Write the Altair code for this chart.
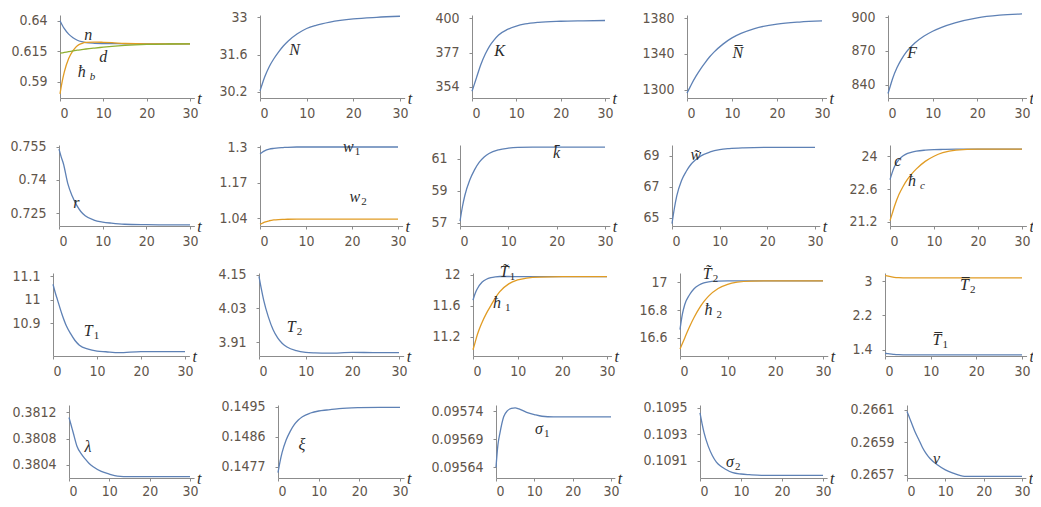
import altair as alt
import pandas as pd

# ---------------- data ----------------
T = [0, 0.5, 1, 2, 3, 4, 5, 6, 8, 10, 12, 15, 20, 25, 30]
X_TICKS = [0, 10, 20, 30]

n_vals = [0.640, 0.6365, 0.6335, 0.629, 0.626, 0.624, 0.6228, 0.622, 0.6215, 0.6213, 0.6212, 0.6211, 0.621, 0.621, 0.621]
hb_vals = [0.580, 0.590, 0.598, 0.609, 0.6155, 0.6195, 0.6213, 0.6222, 0.6225, 0.6223, 0.622, 0.6213, 0.621, 0.621, 0.621]
d_vals = [0.6135, 0.6137, 0.614, 0.6146, 0.6152, 0.6158, 0.6163, 0.6168, 0.6176, 0.6183, 0.619, 0.6198, 0.6206, 0.6209, 0.621]
N_vals = [30.23, 30.5, 30.75, 31.15, 31.45, 31.7, 31.92, 32.1, 32.38, 32.58, 32.7, 32.82, 32.94, 33.0, 33.04]
K_vals = [351, 355.5, 360, 369, 376, 381.5, 385.5, 388.8, 392.5, 394.8, 396.2, 397.3, 398, 398.3, 398.5]
Nbar_vals = [1296, 1301, 1306, 1315, 1323, 1330, 1336.5, 1342, 1351, 1358, 1363, 1368.5, 1373.5, 1375.8, 1377]
F_vals = [832, 838.5, 845, 855, 862.5, 868.5, 873, 877, 883, 887.5, 891, 895, 899.5, 901.8, 903]
r_vals = [0.754, 0.7505, 0.7475, 0.7385, 0.7328, 0.7287, 0.7257, 0.7238, 0.7218, 0.7209, 0.7204, 0.7199, 0.7197, 0.7196, 0.7196]
w1_vals = [1.276, 1.282, 1.287, 1.293, 1.296, 1.298, 1.299, 1.3, 1.301, 1.301, 1.301, 1.301, 1.301, 1.301, 1.301]
w2_vals = [1.018, 1.022, 1.026, 1.031, 1.034, 1.0355, 1.0362, 1.0366, 1.037, 1.037, 1.037, 1.037, 1.037, 1.037, 1.037]
kbar_vals = [57.1, 58.0, 58.7, 59.65, 60.3, 60.78, 61.1, 61.32, 61.55, 61.65, 61.7, 61.72, 61.72, 61.72, 61.72]
wtil_vals = [64.6, 65.6, 66.4, 67.4, 68.0, 68.45, 68.75, 68.98, 69.25, 69.4, 69.47, 69.52, 69.55, 69.55, 69.55]
c_vals = [23.0, 23.3, 23.55, 23.85, 24.02, 24.12, 24.18, 24.22, 24.26, 24.28, 24.29, 24.3, 24.3, 24.3, 24.3]
hc_vals = [21.25, 21.55, 21.85, 22.35, 22.72, 23.02, 23.26, 23.46, 23.78, 24.0, 24.15, 24.26, 24.3, 24.3, 24.3]
T1_vals = [11.065, 11.03, 11.0, 10.94, 10.89, 10.855, 10.826, 10.806, 10.789, 10.781, 10.778, 10.774, 10.779, 10.779, 10.779]
T2_vals = [4.145, 4.1, 4.06, 4.0, 3.955, 3.925, 3.905, 3.892, 3.879, 3.873, 3.871, 3.87, 3.873, 3.872, 3.872]
T1til_vals = [11.67, 11.76, 11.82, 11.9, 11.94, 11.96, 11.97, 11.975, 11.975, 11.974, 11.973, 11.972, 11.972, 11.972, 11.972]
h1_vals = [11.03, 11.13, 11.23, 11.38, 11.5, 11.6, 11.7, 11.78, 11.88, 11.93, 11.955, 11.968, 11.972, 11.972, 11.972]
T2til_vals = [16.66, 16.77, 16.84, 16.91, 16.955, 16.98, 16.995, 17.003, 17.008, 17.01, 17.01, 17.01, 17.01, 17.01, 17.01]
h2_vals = [16.52, 16.56, 16.6, 16.68, 16.75, 16.81, 16.86, 16.9, 16.955, 16.985, 17.0, 17.008, 17.01, 17.01, 17.01]
T2bar_vals = [3.13, 3.125, 3.11, 3.09, 3.08, 3.076, 3.075, 3.075, 3.075, 3.075, 3.075, 3.075, 3.075, 3.075, 3.075]
T1bar_vals = [1.31, 1.305, 1.3, 1.285, 1.278, 1.275, 1.274, 1.274, 1.274, 1.274, 1.274, 1.274, 1.274, 1.274, 1.274]
lam_vals = [0.38112, 0.38101, 0.3809, 0.38068, 0.38057, 0.38049, 0.38042, 0.38037, 0.3803, 0.38026, 0.38023, 0.38022, 0.38022, 0.38022, 0.38022]
xi_vals = [0.14752, 0.14785, 0.14812, 0.1485, 0.14876, 0.14896, 0.1491, 0.1492, 0.14931, 0.14937, 0.1494, 0.14944, 0.14947, 0.14948, 0.14948]
s1_vals = [0.09564, 0.09568, 0.0957, 0.09573, 0.095741, 0.095745, 0.095746, 0.095744, 0.095738, 0.095734, 0.095731, 0.09573, 0.09573, 0.09573, 0.09573]
s2_vals = [0.10946, 0.10938, 0.10931, 0.10921, 0.10914, 0.10909, 0.10906, 0.10904, 0.10901, 0.109, 0.108995, 0.10899, 0.10899, 0.10899, 0.10899]
v_vals = [0.26609, 0.26606, 0.26603, 0.26597, 0.26592, 0.26587, 0.26583, 0.2658, 0.26576, 0.26573, 0.26571, 0.26569, 0.26569, 0.26569, 0.26569]

BLUE, ORANGE, GREEN = "#5E81B5", "#E19C24", "#8FB032"

# panels: series, y domain, y ticks, labels (main, subscript, t, value)
PANELS = [
    [  # row 1
        dict(series=[(n_vals, BLUE), (hb_vals, ORANGE), (d_vals, GREEN)], ydom=[0.5766, 0.6447],
             yticks=[0.59, 0.615, 0.64],
             labels=[("n", "", 6.5, 0.6283), ("d", "", 10, 0.6105), ("ħ", "b", 5, 0.5982)]),
        dict(series=[(N_vals, BLUE)], ydom=[29.963, 33.087], yticks=[30.2, 31.6, 33],
             labels=[("N", "", 7.4, 31.77)]),
        dict(series=[(K_vals, BLUE)], ydom=[346.5, 402.2], yticks=[354, 377, 400],
             labels=[("K", "", 6.2, 378)]),
        dict(series=[(Nbar_vals, BLUE)], ydom=[1290.5, 1383.7], yticks=[1300, 1340, 1380],
             labels=[("N\u0305", "", 11.3, 1341)]),
        dict(series=[(F_vals, BLUE)], ydom=[828, 902], yticks=[840, 870, 900],
             labels=[("F", "", 5.4, 868)]),
    ],
    [  # row 2
        dict(series=[(r_vals, BLUE)], ydom=[0.7191, 0.7559], yticks=[0.725, 0.74, 0.755],
             labels=[("r", "", 4.0, 0.7294)]),
        dict(series=[(w1_vals, BLUE), (w2_vals, ORANGE)], ydom=[1.0118, 1.3084], yticks=[1.04, 1.17, 1.3],
             labels=[("w", "1", 19.2, 1.30), ("w", "2", 20.6, 1.119)]),
        dict(series=[(kbar_vals, BLUE)], ydom=[56.8, 61.85], yticks=[57, 59, 61],
             labels=[("k\u0304", "", 20, 61.35)]),
        dict(series=[(wtil_vals, BLUE)], ydom=[64.45, 69.7], yticks=[65, 67, 69],
             labels=[("w\u0303", "", 5.0, 69.05)]),
        dict(series=[(c_vals, BLUE), (hc_vals, ORANGE)], ydom=[21.02, 24.48], yticks=[21.2, 22.6, 24],
             labels=[("c", "", 1.8, 23.8), ("ħ", "c", 5.0, 22.95)]),
    ],
    [  # row 3
        dict(series=[(T1_vals, BLUE)], ydom=[10.76, 11.113], yticks=[10.9, 11, 11.1],
             labels=[("T", "1", 8, 10.865)]),
        dict(series=[(T2_vals, BLUE)], ydom=[3.86, 4.157], yticks=[3.91, 4.03, 4.15],
             labels=[("T", "2", 6.9, 3.965)]),
        dict(series=[(T1til_vals, BLUE), (h1_vals, ORANGE)], ydom=[10.95, 12.02], yticks=[11.2, 11.6, 12],
             labels=[("T\u0303", "1", 7.0, 12.03), ("ħ", "1", 5.4, 11.63)]),
        dict(series=[(T2til_vals, BLUE), (h2_vals, ORANGE)], ydom=[16.47, 17.066], yticks=[16.6, 16.8, 17],
             labels=[("T\u0303", "2", 5.7, 17.06), ("ħ", "2", 6.0, 16.8)]),
        dict(series=[(T2bar_vals, ORANGE), (T1bar_vals, BLUE)], ydom=[1.248, 3.19], yticks=[1.4, 2.2, 3],
             labels=[("T\u0305", "2", 17.4, 2.92), ("T\u0305", "1", 11.4, 1.63)]),
    ],
    [  # row 4
        dict(series=[(lam_vals, BLUE)], ydom=[0.3802, 0.38131], yticks=[0.3804, 0.3808, 0.3812],
             labels=[("λ", "", 4.7, 0.38067)]),
        dict(series=[(xi_vals, BLUE)], ydom=[0.14736, 0.14955], yticks=[0.1477, 0.1486, 0.1495],
             labels=[("ξ", "", 5.9, 0.14835)]),
        dict(series=[(s1_vals, BLUE)], ydom=[0.095621, 0.095751], yticks=[0.09564, 0.09569, 0.09574],
             labels=[("σ", "1", 11.2, 0.095708)]),
        dict(series=[(s2_vals, BLUE)], ydom=[0.10897, 0.10952], yticks=[0.1091, 0.1093, 0.1095],
             labels=[("σ", "2", 7.3, 0.10909)]),
        dict(series=[(v_vals, BLUE)], ydom=[0.26568, 0.26613], yticks=[0.2657, 0.2659, 0.2661],
             labels=[("v", "", 7.7, 0.265795)]),
    ],
]

# ---------------- layout (page pixels) ----------------
X_MAX = 31
ROW_X = [
    [(60, 190), (260, 400), (472, 605), (687, 822), (888, 1022)],
    [(59, 190), (260, 398), (460, 605), (672, 815), (890, 1022)],
    [(53, 185), (259, 399), (473, 607), (680, 823), (885, 1022)],
    [(69, 190), (278, 400), (496, 611), (700, 823), (907, 1022)],
]
ROW_Y = [(15, 98), (145, 226), (273, 356), (405, 478)]
PAGE = 8
W_SVG, H_SVG = 1025, 491

SANS = "DejaVu Sans Condensed, Liberation Sans Narrow, Arial Narrow, sans-serif"
SERIF = "Liberation Serif, Times New Roman, serif"
INK = "#2b2b2b"
MAIN_W = {"n": 8, "d": 8, "ħ": 8, "N": 11, "K": 11, "F": 10, "r": 6, "w": 11, "k": 8,
          "c": 7, "T": 9, "λ": 8, "ξ": 7, "σ": 8, "v": 7}


def panel(spec, x0, x30, ytop, ybot, last_row):
    xa = x0 - PAGE
    xb = xa + (x30 - x0) * X_MAX / 30.0
    ya, yb = ytop - PAGE, ybot - PAGE
    xs = alt.X("t:Q", scale=alt.Scale(domain=[0, X_MAX], range=[xa, xb], nice=False, zero=False),
               axis=alt.Axis(orient="bottom", offset=yb - H_SVG, values=X_TICKS, format="d",
                             title=None, labelPadding=3 if last_row else 5))
    ys = alt.Y("v:Q", scale=alt.Scale(domain=spec["ydom"], range=[yb, ya], nice=False, zero=False),
               axis=alt.Axis(orient="left", offset=-xa, values=spec["yticks"],
                             labelExpr="'' + datum.value", title=None, labelPadding=10))
    layers = []
    for vals, color in spec["series"]:
        df = pd.DataFrame({"t": T, "v": vals})
        layers.append(alt.Chart(df).mark_line(color=color, strokeWidth=1.3,
                                              interpolate="monotone").encode(x=xs, y=ys))
    for main, sub, lt, lv in spec["labels"]:
        df = pd.DataFrame({"t": [lt], "v": [lv]})
        layers.append(alt.Chart(df).mark_text(text=main, font=SERIF, fontStyle="italic",
                                              fontSize=16, color=INK, align="center",
                                              baseline="middle").encode(x=xs, y=ys))
        if sub:
            mw = MAIN_W.get(main[0], 8)
            gap = 4 if main[0] == "ħ" else 1
            layers.append(alt.Chart(df).mark_text(text=sub, font=SERIF,
                                                  fontStyle="italic" if sub.isalpha() else "normal",
                                                  fontSize=11, color=INK, align="left",
                                                  baseline="middle", dx=mw / 2 + gap, dy=5).encode(x=xs, y=ys))
    tdf = pd.DataFrame({"t": [X_MAX], "v": [spec["ydom"][0]]})
    layers.append(alt.Chart(tdf).mark_text(text="t", font=SERIF, fontStyle="italic", fontSize=16,
                                           color=INK, align="left", baseline="middle",
                                           dx=3, dy=1).encode(x=xs, y=ys))
    return alt.layer(*layers)


panels = []
for r in range(4):
    for c in range(5):
        x0, x30 = ROW_X[r][c]
        panels.append(panel(PANELS[r][c], x0, x30, ROW_Y[r][0], ROW_Y[r][1], r == 3))

chart = alt.layer(*panels).resolve_scale(
    x="independent", y="independent"
).resolve_axis(
    x="independent", y="independent"
).properties(
    width=W_SVG, height=H_SVG,
    autosize=alt.AutoSizeParams(type="none"),
    padding={"left": 0, "top": 0, "right": 0, "bottom": 0},
).configure_view(stroke=None).configure_axis(
    labelFont=SANS, labelFontSize=14, labelColor="#5f554b", domainColor="#8c8c8c",
    tickColor="#8c8c8c", domainWidth=1, tickWidth=1, tickSize=3, grid=False
)

chart.save("out.html", embed_options={"renderer": "svg", "actions": False})
